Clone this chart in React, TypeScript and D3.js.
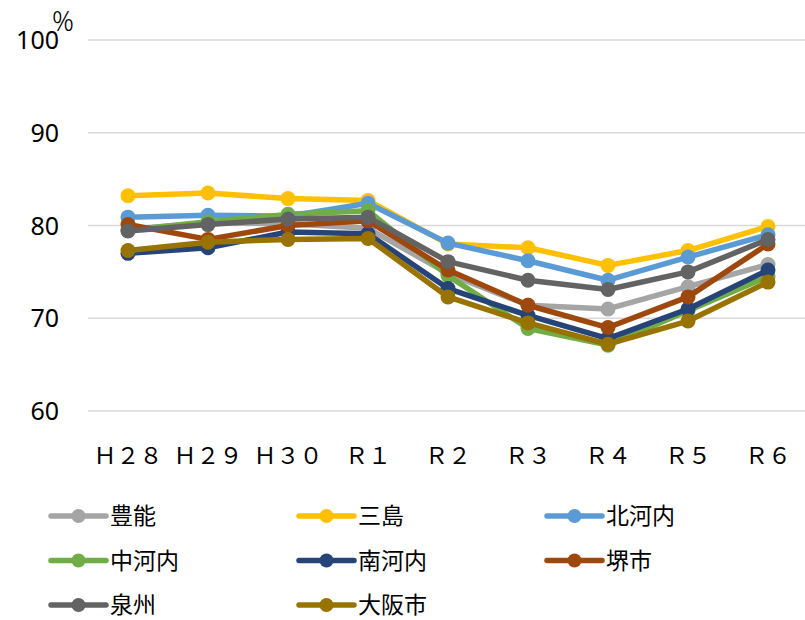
import React from 'react';
import * as d3 from 'd3';

const categories = ['Ｈ２８', 'Ｈ２９', 'Ｈ３０', 'Ｒ１', 'Ｒ２', 'Ｒ３', 'Ｒ４', 'Ｒ５', 'Ｒ６'];
const yTicks = [60, 70, 80, 90, 100];

const toyono = [79.6, 80.3, 80.2, 79.7, 74.8, 71.4, 71.0, 73.4, 75.8];
const mishima = [83.2, 83.5, 82.9, 82.7, 78.0, 77.6, 75.7, 77.3, 79.9];
const kitakawachi = [80.9, 81.1, 81.0, 82.4, 78.1, 76.2, 74.1, 76.6, 79.0];
const nakakawachi = [79.5, 80.4, 81.2, 81.6, 74.6, 68.9, 67.1, 70.8, 74.5];
const minamikawachi = [77.0, 77.6, 79.3, 79.1, 73.2, 70.3, 67.8, 71.0, 75.2];
const sakai = [80.1, 78.5, 80.0, 80.5, 75.2, 71.4, 69.0, 72.3, 78.0];
const senshu = [79.4, 80.1, 80.7, 80.9, 76.1, 74.1, 73.1, 75.0, 78.5];
const osakaCity = [77.3, 78.2, 78.5, 78.6, 72.3, 69.5, 67.2, 69.7, 73.9];

const series = [
  { name: '豊能', values: toyono, color: '#A5A5A5' },
  { name: '三島', values: mishima, color: '#FFC000' },
  { name: '北河内', values: kitakawachi, color: '#5B9BD5' },
  { name: '中河内', values: nakakawachi, color: '#70AD47' },
  { name: '南河内', values: minamikawachi, color: '#264478' },
  { name: '堺市', values: sakai, color: '#9E480E' },
  { name: '泉州', values: senshu, color: '#636363' },
  { name: '大阪市', values: osakaCity, color: '#997300' },
];

const W = 805;
const H = 620;
const left = 88;

const App = () => {
  const x = d3.scaleBand().domain(categories).range([left, left + 720]);
  const y = d3.scaleLinear().domain([60, 100]).range([411, 40]);
  const cx = (c: string) => (x(c) as number) + x.bandwidth() / 2;

  const line = d3
    .line<number>()
    .x((d, i) => cx(categories[i]))
    .y((d) => y(d));

  return (
    <div style={{ position: 'absolute', left: 0, top: 0 }}>
      <svg width={W} height={H} style={{ display: 'block', background: '#fff' }}>
        {yTicks.map((t) => (
          <g key={t}>
            <line x1={left} x2={W} y1={y(t)} y2={y(t)} stroke="#D9D9D9" strokeWidth={1.5} />
            <text
              x={59}
              y={y(t)}
              dy="0.36em"
              textAnchor="end"
              fontFamily="'Noto Sans', sans-serif"
              fontSize={25}
              fill="#000"
            >
              {t}
            </text>
          </g>
        ))}
        <text x={52} y={31} fontFamily="'Noto Sans', sans-serif" fontSize={27} fontWeight={300} fill="#000">
          %
        </text>

        {categories.map((c) => (
          <text
            key={c}
            x={cx(c)}
            y={464}
            textAnchor="middle"
            fontFamily="'Noto Sans CJK JP', sans-serif"
            fontSize={23}
            fill="#000"
          >
            {c}
          </text>
        ))}

        {series.map((s) => (
          <g key={s.name}>
            <path d={line(s.values) || ''} fill="none" stroke={s.color} strokeWidth={5.5} strokeLinejoin="round" />
            {s.values.map((v, i) => (
              <circle key={i} cx={cx(categories[i])} cy={y(v)} r={7.5} fill={s.color} />
            ))}
          </g>
        ))}

        {series.map((s, i) => {
          const lx = 51 + (i % 3) * 248;
          const ly = 516 + Math.floor(i / 3) * 44.5;
          return (
            <g key={s.name} transform={`translate(${lx},${ly})`}>
              <line x1={0} x2={55} y1={0} y2={0} stroke={s.color} strokeWidth={5.5} strokeLinecap="round" />
              <circle cx={27.5} cy={0} r={7} fill={s.color} />
              <text
                x={59}
                y={0}
                dy="0.36em"
                fontFamily="'Noto Sans CJK JP', sans-serif"
                fontSize={23}
                fill="#000"
              >
                {s.name}
              </text>
            </g>
          );
        })}
      </svg>
    </div>
  );
};

export default App;
